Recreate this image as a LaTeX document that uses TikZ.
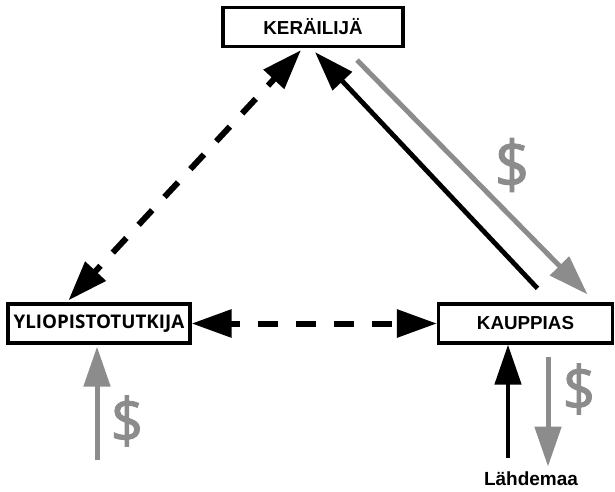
\documentclass[tikz,border=0pt]{standalone}
\usepackage{fontspec}
\setmainfont{Liberation Sans}
\newfontfamily\opensans{Open Sans}
\newfontfamily\dollarfont[FakeBold=1.6]{Open Sans}
\usetikzlibrary{arrows.meta,calc}
\definecolor{money}{RGB}{140,140,140}
\tikzset{
  actor/.style={draw=black, line width=3.2pt, fill=white, minimum height=39pt,
    inner sep=0pt, font=\bfseries\fontsize{18.8}{20}\selectfont},
  link/.style={line width=6pt, dash pattern=on 20pt off 18pt, dash phase=10pt,
    {Triangle[length=40pt,width=27pt]}-{Triangle[length=40pt,width=27pt]}},
  goods/.style={line width=4.8pt, black, -{Triangle[length=40pt,width=26pt]}},
  cash/.style={line width=5pt, money, -{Triangle[length=40pt,width=26pt]}},
  dollar/.style={text=money, inner sep=0pt, xscale=0.92,
    font=\dollarfont\fontsize{62}{62}\selectfont}
}
\begin{document}
\begin{tikzpicture}[x=1pt,y=-1pt]
  \useasboundingbox (0,0) rectangle (615,492);
  % actors
  \node[actor, minimum width=180pt] (ker) at (313,27) {KERÄILIJÄ};
  \node[actor, minimum width=182pt, font=\opensans\bfseries\fontsize{18.8}{20}\selectfont] (yli) at (99,323.5) {YLIOPISTOTUTKIJA};
  \node[actor, minimum width=174pt] (kau) at (525.5,323.5) {KAUPPIAS};
  \node[font=\bfseries\fontsize{19}{20}\selectfont, inner sep=0pt] (src) at (531,479) {Lähdemaa};

  % connector end points
  \coordinate (kerL) at ($(ker.south)+(-12,2)$);
  \coordinate (kerR) at ($(ker.south)+(2,4)$);
  \coordinate (kerC) at ($(ker.south)+(44,12)$);
  \coordinate (yliT) at ($(yli.north west)+(62,-2)$);
  \coordinate (kauT) at ($(kau.north)+(12,-14)$);
  \coordinate (kauC) at ($(kau.north)+(62,-8)$);
  \coordinate (kauB) at ($(kau.south)+(-17.5,0)$);
  \coordinate (srcT) at ($(src.north)+(-23,-14)$);
  \coordinate (gdTop) at ($(kau.south)+(22.5,12)$);
  \coordinate (gdBot) at ($(kau.south)+(22.5,122)$);
  \coordinate (ylB) at ($(yli.south)+(-2,115)$);
  \coordinate (ylT) at ($(yli.south)+(-2,2)$);

  % exchanges
  \draw[link] (kerL) -- (yliT);
  \draw[link] (yli.east) -- (kau.west);
  \draw[goods] (kauT) -- (kerR);
  \draw[cash] (kerC) -- (kauC);
  \draw[goods] (srcT) -- (kauB);
  \draw[cash] (gdTop) -- (gdBot);
  \draw[cash] (ylB) -- (ylT);

  % money labels
  \node[dollar, font=\dollarfont\fontsize{66}{66}\selectfont] (d1) at (512,165) {\$};
  \node[dollar] (d2) at (579,389) {\$};
  \node[dollar] (d3) at (127,421) {\$};
\end{tikzpicture}
\end{document}
